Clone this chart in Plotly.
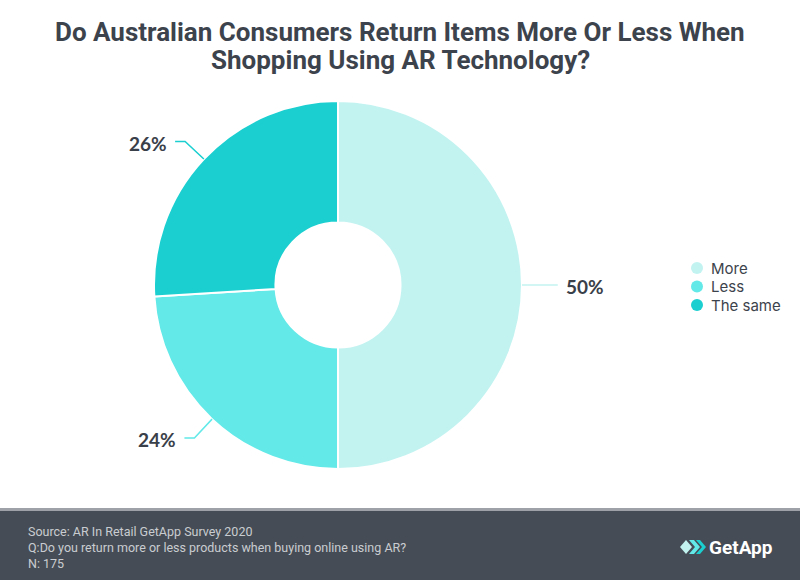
import math
import plotly.graph_objects as go

labels = ["More", "Less", "The same"]
values = [50, 24, 26]
colors = ["#c2f3f1", "#62e9e8", "#1bcfd0"]
text_labels = ["50%", "24%", "26%"]

title_lines = ["Do Australian Consumers Return Items More Or Less When",
               "Shopping Using AR Technology?"]
footer_lines = [
    "Source: AR In Retail GetApp Survey 2020",
    "Q:Do you return more or less products when buying online using AR?",
    "N: 175",
]

W, H = 800, 580
cx, cy, R = 338, 285, 184

def px(x):
    return x / W

def py(y):
    return 1 - y / H

fig = go.Figure()
fig.add_trace(go.Pie(
    labels=labels, values=values, sort=False, direction="clockwise", rotation=0,
    hole=0.34, textinfo="none", hoverinfo="label+percent", showlegend=False,
    marker=dict(colors=colors, line=dict(color="white", width=2)),
    domain=dict(x=[px(cx - R), px(cx + R)], y=[py(cy + R), py(cy - R)]),
))

shapes = []
annotations = []
total = sum(values)
cum = 0
for lab, v, t, c in zip(labels, values, text_labels, colors):
    mid = 2 * math.pi * (cum + v / 2) / total
    cum += v
    s, co = math.sin(mid), math.cos(mid)
    x0, y0 = cx + R * s, cy - R * co
    x1, y1 = cx + R * 1.14 * s, cy - R * 1.14 * co
    side = 1 if s >= 0 else -1
    x2 = x1 + side * 10
    shapes.append(dict(type="path", xref="paper", yref="paper",
                       path=f"M {px(x0)},{py(y0)} L {px(x1)},{py(y1)} L {px(x2)},{py(y1)}",
                       line=dict(color=c, width=1.5)))
    annotations.append(dict(x=px(x2 + side * 6), y=py(y1 + 2), xref="paper", yref="paper",
                            text=f"<b>{t}</b>", showarrow=False,
                            xanchor="left" if side > 0 else "right", yanchor="middle",
                            font=dict(family="Lato, Open Sans", size=19, color="#3a4049")))

# custom legend (circle markers, tight spacing)
for i, (lab, c) in enumerate(zip(labels, colors)):
    ly = 268 + i * 18.5
    shapes.append(dict(type="circle", xref="paper", yref="paper",
                       x0=px(691), x1=px(703), y0=py(ly + 6), y1=py(ly - 6),
                       fillcolor=c, line=dict(width=0)))
    annotations.append(dict(x=px(709), y=py(ly), xref="paper", yref="paper",
                            text=lab, showarrow=False, xanchor="left", yanchor="middle",
                            font=dict(family="Inter", size=15, color="#3d434c")))

# title lines
for i, line in enumerate(title_lines):
    annotations.append(dict(x=0.5, y=py(32 + i * 28), xref="paper", yref="paper",
                            text=f"<b>{line}</b>", showarrow=False, xanchor="center", yanchor="middle",
                            font=dict(family="Roboto", size=26, color="#3d434c")))

# footer band
shapes.append(dict(type="rect", xref="paper", yref="paper", x0=0, x1=1, y0=0, y1=py(508),
                   fillcolor="#464c55", line=dict(width=0), layer="below"))
shapes.append(dict(type="rect", xref="paper", yref="paper", x0=0, x1=1, y0=py(511), y1=py(508),
                   fillcolor="#9ea2a8", line=dict(width=0)))
for i, line in enumerate(footer_lines):
    annotations.append(dict(x=px(26), y=py(531 + i * 16), xref="paper", yref="paper",
                            text=line, showarrow=False, xanchor="left", yanchor="middle",
                            font=dict(family="Roboto", size=12.5, color="#c9ccd1")))
# logo
shapes.append(dict(type="path", xref="paper", yref="paper",
                   path=f"M {px(680)},{py(547)} L {px(686)},{py(540)} L {px(692)},{py(547)} L {px(686)},{py(554)} Z",
                   fillcolor="#c2f3f1", line=dict(width=0)))
shapes.append(dict(type="path", xref="paper", yref="paper",
                   path=f"M {px(689)},{py(540)} L {px(694)},{py(540)} L {px(700)},{py(547)} L {px(694)},{py(554)} L {px(689)},{py(554)} L {px(695)},{py(547)} Z",
                   fillcolor="#62e9e8", line=dict(width=0)))
shapes.append(dict(type="path", xref="paper", yref="paper",
                   path=f"M {px(696)},{py(540)} L {px(700)},{py(540)} L {px(706)},{py(547)} L {px(700)},{py(554)} L {px(696)},{py(554)} L {px(702)},{py(547)} Z",
                   fillcolor="#1bcfd0", line=dict(width=0)))
annotations.append(dict(x=px(707), y=py(547), xref="paper", yref="paper",
                        text="<b>GetApp</b>", showarrow=False, xanchor="left", yanchor="middle",
                        font=dict(family="Roboto", size=19, color="white")))

fig.update_layout(
    width=W, height=H,
    margin=dict(l=0, r=0, t=0, b=0),
    paper_bgcolor="white", plot_bgcolor="white",
    showlegend=False,
    shapes=shapes, annotations=annotations,
)

fig.write_html("out.html")
